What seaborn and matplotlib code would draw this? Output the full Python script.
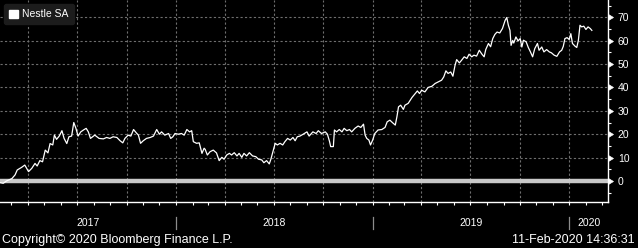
import matplotlib
matplotlib.use('Agg')
import matplotlib.pyplot as plt
import matplotlib.dates as mdates
import matplotlib.transforms as mtransforms
from matplotlib.patches import Patch
from matplotlib.ticker import NullFormatter
import seaborn as sns
import pandas as pd

plt.rcParams['font.family'] = ['Liberation Sans', 'DejaVu Sans']

# ---------------- data ----------------
start_date = '2017-02-08'
series_name = 'Nestle SA'
day_offsets = [
    0, 6, 12, 22, 28, 32, 40, 46, 53, 59, 65, 69, 74, 79, 84, 89, 93, 98, 101, 105,
    110, 115, 119, 124, 128, 133, 137, 141, 145, 150, 155, 160, 164, 168, 176, 184,
    192, 198, 204, 210, 217, 223, 228, 232, 238, 243, 248, 253, 257, 261, 266, 272,
    279, 285, 291, 296, 300, 306, 313, 317, 321, 325, 331, 337, 342, 347, 352, 356,
    359, 365, 370, 375, 379, 381, 385, 390, 396, 402, 407, 412, 416, 421, 426, 430,
    435, 440, 444, 449, 453, 458, 463, 469, 475, 480, 486, 490, 495, 500, 503, 506,
    511, 515, 520, 525, 529, 534, 539, 544, 548, 552, 557, 563, 570, 574, 581, 587,
    591, 597, 604, 608, 612, 614, 619, 621, 625, 630, 635, 639, 644, 649, 653, 659,
    665, 670, 675, 678, 681, 685, 688, 692, 696, 702, 709, 715, 719, 724, 729, 734,
    737, 740, 744, 749, 752, 758, 765, 771, 775, 779, 783, 789, 795, 802, 808, 814,
    820, 824, 828, 832, 837, 841, 845, 848, 853, 857, 862, 867, 871, 876, 880, 885,
    890, 895, 899, 902, 907, 911, 915, 919, 923, 928, 933, 938, 941, 944, 947, 949,
    952, 954, 958, 962, 966, 969, 972, 977, 981, 985, 989, 993, 998, 1001, 1006, 1010,
    1015, 1020, 1024, 1029, 1034, 1039, 1043, 1046, 1049, 1053, 1057, 1060, 1063, 1068,
    1071, 1074, 1077, 1080, 1084, 1088, 1092, 1096, 1099,
]
pct_change = [
    -0.7, -1.0, 0.0, 1.0, 2.6, 4.7, 5.8, 6.8, 4.0, 5.4, 7.5, 6.4, 8.7, 8.2, 13.2, 12.0, 16.0, 15.4, 19.6, 17.8,
    19.2, 21.5, 18.2, 16.0, 18.9, 19.2, 25.0, 22.5, 19.2, 21.0, 21.8, 22.5, 21.0, 18.2, 19.6, 18.2,
    18.0, 18.6, 18.2, 18.9, 18.6, 17.2, 16.3, 18.2, 19.6, 19.2, 22.0, 20.6, 19.6, 16.1, 17.2, 18.2,
    18.6, 19.2, 22.0, 20.0, 21.0, 19.6, 20.3, 18.2, 18.9, 20.3, 20.0, 20.3, 19.6, 22.0, 21.0, 21.5,
    16.8, 16.1, 16.3, 11.8, 14.0, 13.5, 11.1, 12.5, 13.2, 12.0, 8.7, 10.1, 9.3, 11.1, 11.8, 11.1,
    12.1, 10.7, 11.8, 10.1, 11.8, 10.7, 12.1, 10.7, 10.4, 9.3, 9.0, 7.8, 8.7, 7.3, 9.3, 11.8,
    16.1, 15.4, 16.1, 15.4, 16.8, 18.2, 17.5, 18.6, 17.2, 18.9, 19.2, 20.0, 21.0, 19.2, 21.0, 20.3,
    21.5, 20.3, 21.0, 20.0, 16.8, 14.7, 14.7, 21.8, 21.0, 22.0, 21.0, 22.5, 21.5, 22.0, 21.0, 22.5,
    23.5, 22.9, 24.3, 19.6, 18.2, 17.5, 15.4, 17.5, 20.3, 21.8, 22.0, 22.9, 25.3, 26.0, 24.9, 23.9,
    27.4, 31.7, 32.4, 30.6, 32.4, 33.2, 35.7, 37.4, 38.5, 37.4, 38.8, 38.1, 40.0, 40.5, 41.7, 42.4,
    43.1, 44.5, 47.1, 46.0, 46.6, 44.8, 49.5, 51.9, 50.5, 51.6, 53.1, 52.4, 54.2, 53.1, 53.8, 53.4,
    55.9, 54.2, 53.1, 56.2, 58.8, 57.4, 60.9, 62.7, 63.7, 63.3, 65.2, 68.7, 69.9, 66.6, 64.4, 58.0,
    60.1, 59.0, 61.6, 59.9, 60.9, 57.3, 60.2, 59.5, 57.1, 55.2, 53.1, 56.6, 58.8, 55.9, 57.3, 55.2,
    56.2, 55.2, 54.8, 53.8, 53.3, 55.2, 55.9, 57.6, 60.9, 61.3, 60.5, 63.0, 58.8, 57.6,
    57.1, 60.2, 66.6, 65.9, 66.2, 64.8, 65.9, 65.2, 64.4,
]
y_major_ticks = [0, 10, 20, 30, 40, 50, 60, 70]
y_minor_ticks = [-5, 5, 15, 25, 35, 45, 55, 65, 75]
year_labels = ['2017', '2018', '2019', '2020']
copyright_text = 'Copyright© 2020 Bloomberg Finance L.P.'
timestamp_text = '11-Feb-2020 14:36:31'

dates = pd.Timestamp(start_date) + pd.to_timedelta(day_offsets, unit='D')
df = pd.DataFrame({'date': dates, 'value': pct_change})

# ---------------- figure ----------------
W, H = 638, 248
fig = plt.figure(figsize=(W / 100, H / 100), dpi=100, facecolor='black')
ax_left, ax_right, ax_bottom = 0, 608, 202
ax = fig.add_axes([ax_left / W, 1 - ax_bottom / H, (ax_right - ax_left) / W, ax_bottom / H])
ax.set_facecolor('black')

ax.axhline(0, color='#c8c8c8', lw=3.2, zorder=2)
sns.lineplot(data=df, x='date', y='value', ax=ax, color='white', lw=0.9, zorder=3)

x0 = pd.Timestamp(start_date)
x1 = x0 + pd.Timedelta(days=1129)
ax.set_xlim(x0, x1)
ax.set_ylim(-9, 77.4)
ax.set_xlabel('')
ax.set_ylabel('')

# y axis on right
ax.yaxis.tick_right()
ax.set_yticks(y_major_ticks)
ax.set_yticks(y_minor_ticks, minor=True)
ax.tick_params(axis='y', which='both', colors='white', direction='out',
               left=False, right=True, labelleft=False, labelright=True)
ax.tick_params(axis='y', which='major', length=4.5, width=0.5, pad=2.5, labelsize=7.5)
ax.tick_params(axis='y', which='minor', length=2.2, width=0.8)

# x axis
ax.xaxis.set_major_locator(mdates.MonthLocator(bymonth=[1, 4, 7, 10]))
ax.xaxis.set_minor_locator(mdates.MonthLocator())
ax.xaxis.set_major_formatter(NullFormatter())
ax.xaxis.set_minor_formatter(NullFormatter())
ax.tick_params(axis='x', which='both', colors='white', direction='out',
               length=2.2, width=0.8, bottom=True, top=False)

ax.grid(True, which='major', color='#6e6e6e', ls=(0, (2, 2)), lw=0.8)
ax.set_axisbelow(True)

for s in ['left', 'top']:
    ax.spines[s].set_visible(False)
for s in ['right', 'bottom']:
    ax.spines[s].set_color('white')
    ax.spines[s].set_linewidth(1.0)

# triangular major y tick markers
for t in ax.yaxis.get_major_ticks():
    t.tick2line.set_marker(9)  # caret right, centered at base
    t.tick2line.set_markersize(4.5)
    t.tick2line.set_markerfacecolor('white')
    t.tick2line.set_markeredgecolor('white')

# year labels and separators below the axis
trans = mtransforms.blended_transform_factory(ax.transData, ax.transAxes)
xl0, xl1 = mdates.date2num(x0), mdates.date2num(x1)
bounds = [mdates.date2num(pd.Timestamp(f'{y}-01-01')) for y in
          range(int(year_labels[0]), int(year_labels[-1]) + 2)]
for i, lab in enumerate(year_labels):
    a = max(bounds[i], xl0)
    b = min(bounds[i + 1], xl1)
    ax.text((a + b) / 2, -0.102, lab, transform=trans, ha='center', va='center',
            color='white', fontsize=7.5, clip_on=False)
for bnd in bounds:
    if xl0 < bnd < xl1:
        ax.plot([bnd, bnd], [-0.073, -0.134], transform=trans, color='#8c8c8c',
                lw=0.9, clip_on=False)

# legend
handle = Patch(facecolor='white', edgecolor='white', label=series_name)
leg = ax.legend(handles=[handle], loc='upper left', bbox_to_anchor=(4 / 608, 1 - 4 / 202),
                frameon=True, facecolor='#1c1c1c', edgecolor='#1c1c1c', framealpha=1,
                labelcolor='white', fontsize=7.5, handlelength=0.8, handleheight=0.8,
                borderpad=0.5, handletextpad=0.45, borderaxespad=0, fancybox=True)

# footer
fig.text(2 / W, 1 - 240 / H, copyright_text, color='white', fontsize=9, ha='left', va='center')
fig.text(635 / W, 1 - 240 / H, timestamp_text, color='white', fontsize=9, ha='right', va='center')

fig.savefig('out.png', dpi=100, facecolor='black')
